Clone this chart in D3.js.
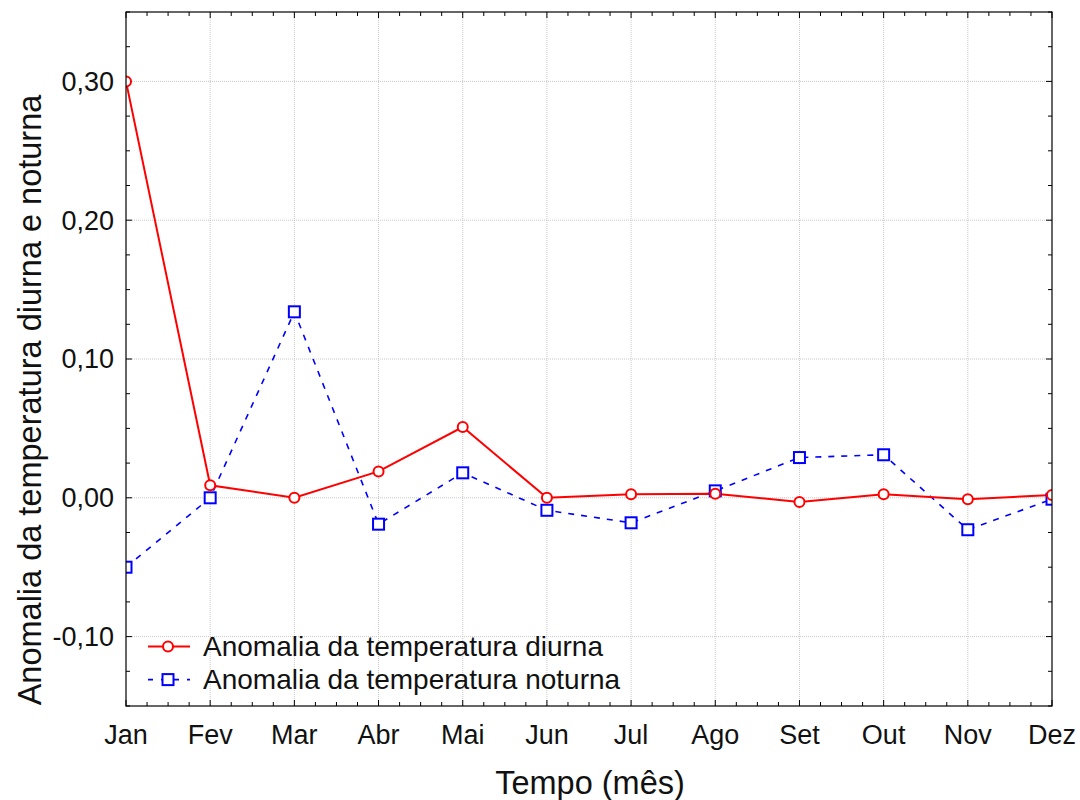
<!DOCTYPE html>
<html>
<head>
<meta charset="utf-8">
<script src="https://cdn.jsdelivr.net/npm/d3@7"></script>
<style>
  body { margin: 0; background: #fff; }
  text { font-family: "Liberation Sans", Arial, sans-serif; fill: #111; }
</style>
</head>
<body>
<div id="chart"></div>
<script>
// data
var months = ["Jan","Fev","Mar","Abr","Mai","Jun","Jul","Ago","Set","Out","Nov","Dez"];
var diurna = [0.300, 0.009, 0.000, 0.019, 0.051, 0.000, 0.0025, 0.003, -0.003, 0.0025, -0.001, 0.002];
var noturna = [-0.050, 0.000, 0.134, -0.019, 0.018, -0.009, -0.018, 0.005, 0.029, 0.031, -0.023, -0.001];
var yTicks = [-0.10, 0.00, 0.10, 0.20, 0.30];

var W = 1080, H = 800;
var m = {left: 126, right: 28, top: 12, bottom: 94};
var w = W - m.left - m.right, h = H - m.top - m.bottom;

var svg = d3.select("#chart").append("svg")
  .attr("width", W)
  .attr("height", H);

var g = svg.append("g").attr("transform", "translate(" + m.left + "," + m.top + ")");

var x = d3.scalePoint().domain(months).range([0, w]);
var y = d3.scaleLinear().domain([-0.15, 0.35]).range([h, 0]);

// grid
g.append("g").selectAll("line").data(months.slice(1, -1)).enter().append("line")
  .attr("x1", function(d){ return x(d); }).attr("x2", function(d){ return x(d); })
  .attr("y1", 0).attr("y2", h)
  .attr("stroke", "#c8c8c8").attr("stroke-dasharray", "1,1");
g.append("g").selectAll("line").data(yTicks).enter().append("line")
  .attr("y1", function(d){ return y(d); }).attr("y2", function(d){ return y(d); })
  .attr("x1", 0).attr("x2", w)
  .attr("stroke", "#c8c8c8").attr("stroke-dasharray", "1,1");

// minor ticks, inward on all four sides
var step = x.step();
var xMinor = [];
for (var i = 0; i < months.length - 1; i++) {
  for (var k = 1; k < 4; k++) xMinor.push(x(months[i]) + k * step / 4);
}
var yMinor = d3.range(-0.15, 0.3501, 0.025).filter(function(v){
  return Math.abs(Math.round(v * 10) - v * 10) > 0.01;
});

var ticks = g.append("g").attr("stroke", "#000").attr("stroke-width", 1);
xMinor.forEach(function(px){
  ticks.append("line").attr("x1", px).attr("x2", px).attr("y1", h).attr("y2", h - 4);
  ticks.append("line").attr("x1", px).attr("x2", px).attr("y1", 0).attr("y2", 4);
});
months.forEach(function(mo){
  ticks.append("line").attr("x1", x(mo)).attr("x2", x(mo)).attr("y1", h).attr("y2", h - 6);
  ticks.append("line").attr("x1", x(mo)).attr("x2", x(mo)).attr("y1", 0).attr("y2", 6);
});
yMinor.forEach(function(v){
  ticks.append("line").attr("y1", y(v)).attr("y2", y(v)).attr("x1", 0).attr("x2", 4);
  ticks.append("line").attr("y1", y(v)).attr("y2", y(v)).attr("x1", w).attr("x2", w - 4);
});
yTicks.forEach(function(v){
  ticks.append("line").attr("y1", y(v)).attr("y2", y(v)).attr("x1", 0).attr("x2", 6);
  ticks.append("line").attr("y1", y(v)).attr("y2", y(v)).attr("x1", w).attr("x2", w - 6);
});

// axis labels
var fmt = function(v){ return d3.format(".2f")(v).replace(".", ",").replace("−", "-"); };
g.append("g").selectAll("text").data(yTicks).enter().append("text")
  .attr("x", -12).attr("y", function(d){ return y(d); })
  .attr("dy", "0.35em").attr("text-anchor", "end")
  .attr("font-size", 27)
  .text(fmt);
g.append("g").selectAll("text").data(months).enter().append("text")
  .attr("x", function(d){ return x(d); }).attr("y", h + 38)
  .attr("text-anchor", "middle").attr("font-size", 27)
  .text(function(d){ return d; });

svg.append("text")
  .attr("x", m.left + w / 2 + 1).attr("y", 794)
  .attr("text-anchor", "middle").attr("font-size", 32.5)
  .text("Tempo (mês)");
svg.append("text")
  .attr("transform", "translate(41,400) rotate(-90)")
  .attr("text-anchor", "middle").attr("font-size", 32.5)
  .text("Anomalia da temperatura diurna e noturna");

// series, clipped to the plot
svg.append("defs").append("clipPath").attr("id", "clip")
  .append("rect").attr("width", w).attr("height", h);
var plot = g.append("g").attr("clip-path", "url(#clip)");

var line = d3.line()
  .x(function(d, i){ return x(months[i]); })
  .y(function(d){ return y(d); });

plot.append("path").datum(noturna)
  .attr("fill", "none").attr("stroke", "#0000ff").attr("stroke-width", 1.6)
  .attr("stroke-dasharray", "6,7")
  .attr("d", line);
plot.append("path").datum(diurna)
  .attr("fill", "none").attr("stroke", "#ff0000").attr("stroke-width", 2)
  .attr("d", line);

plot.selectAll("rect.sq").data(noturna).enter().append("rect")
  .attr("class", "sq")
  .attr("x", function(d, i){ return x(months[i]) - 5.5; })
  .attr("y", function(d){ return y(d) - 5.5; })
  .attr("width", 11).attr("height", 11)
  .attr("fill", "#fff").attr("stroke", "#0000ff").attr("stroke-width", 2);
plot.selectAll("circle").data(diurna).enter().append("circle")
  .attr("cx", function(d, i){ return x(months[i]); })
  .attr("cy", function(d){ return y(d); })
  .attr("r", 5)
  .attr("fill", "#fff").attr("stroke", "#ff0000").attr("stroke-width", 2);

// frame
g.append("rect").attr("width", w).attr("height", h)
  .attr("fill", "none").attr("stroke", "#000").attr("stroke-width", 1.2);

// legend
var leg = g.append("g").attr("transform", "translate(22," + (y(-0.10) + 10) + ")");
leg.append("line").attr("x1", 0).attr("x2", 42).attr("y1", 0).attr("y2", 0)
  .attr("stroke", "#ff0000").attr("stroke-width", 2);
leg.append("circle").attr("cx", 20).attr("cy", 0).attr("r", 5)
  .attr("fill", "#fff").attr("stroke", "#ff0000").attr("stroke-width", 2);
leg.append("text").attr("x", 55).attr("y", 0).attr("dy", "0.35em")
  .attr("font-size", 28).text("Anomalia da temperatura diurna");
leg.append("line").attr("x1", 0).attr("x2", 42).attr("y1", 33).attr("y2", 33)
  .attr("stroke", "#0000ff").attr("stroke-width", 1.6).attr("stroke-dasharray", "5,8");
leg.append("rect").attr("x", 14.5).attr("y", 27.5).attr("width", 11).attr("height", 11)
  .attr("fill", "#fff").attr("stroke", "#0000ff").attr("stroke-width", 2);
leg.append("text").attr("x", 55).attr("y", 33).attr("dy", "0.35em")
  .attr("font-size", 28).text("Anomalia da temperatura noturna");
</script>
</body>
</html>
